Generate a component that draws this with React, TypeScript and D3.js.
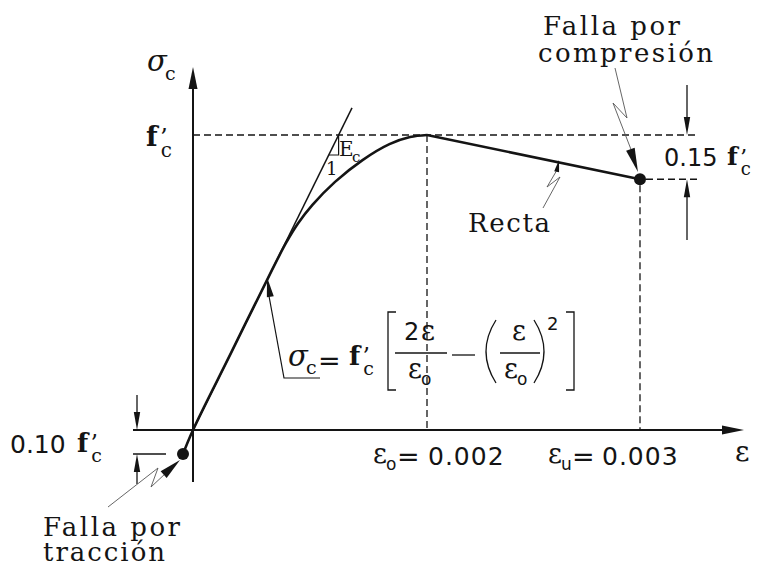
import React from "react";
import * as d3 from "d3";

// Strain breakpoints of the horizontal axis and stress breakpoints (σ / f'c)
const strainStops = [0, 0.002, 0.003];
const stressStops = [-0.1, 0, 1];

// Ascending branch (tension failure point, origin, parabola up to the peak)
const ascEps = [-0.0000855, 0, 0.000321, 0.000662, 0.000795, 0.000897, 0.001021, 0.001214, 0.001449, 0.001679, 0.001855, 0.002];
const ascSig = [-0.1, 0, 0.258, 0.532, 0.634, 0.7, 0.763, 0.841, 0.915, 0.969, 0.993, 1.0];

// Straight descending branch ("Recta") down to the crushing strain
const descEps = [0.002, 0.003];
const descSig = [1.0, 0.85];

// Initial tangent (modulus E_c)
const tangentEps = [0, 0.001359];
const tangentSig = [0, 1.092];

// Failure points
const failEps = [-0.0000855, 0.003];
const failSig = [-0.1, 0.85];

const W = 763;
const H = 567;
const SERIF = "'DejaVu Serif', 'Liberation Serif', serif";
const SANS = "'DejaVu Sans', 'Liberation Sans', sans-serif";
const INK = "#141414";
const LEAD = "#555";

type Pt = [number, number];

function arrowHead(tip: Pt, from: Pt, len: number, half: number): string {
  const dx = tip[0] - from[0];
  const dy = tip[1] - from[1];
  const d = Math.hypot(dx, dy) || 1;
  const ux = dx / d;
  const uy = dy / d;
  const bx = tip[0] - ux * len;
  const by = tip[1] - uy * len;
  const px = -uy * half;
  const py = ux * half;
  return `M${tip[0]},${tip[1]}L${bx + px},${by + py}L${bx - px},${by - py}Z`;
}

function Fc({ x, y, size, sub }: { x: number; y: number; size: number; sub: number }) {
  return (
    <g fill={INK}>
      <text x={x} y={y} fontFamily={SERIF} fontWeight="bold" fontSize={size}>f</text>
      <text x={x + size * 0.52} y={y} fontFamily={SERIF} fontSize={size * 0.9}>’</text>
      <text x={x + size * 0.55} y={y + size * 0.4} fontFamily={SERIF} fontSize={sub}>c</text>
    </g>
  );
}

function EpsSub({ x, y, s }: { x: number; y: number; s: string }) {
  return (
    <g fill={INK}>
      <text x={x} y={y} fontFamily={SERIF} fontSize={27}>ε</text>
      <text x={x + 13} y={y + 7} fontFamily={SANS} fontSize={17}>{s}</text>
    </g>
  );
}

export default function App() {
  const x = d3.scaleLinear().domain(strainStops).range([193, 427, 640]);
  const y = d3.scaleLinear().domain(stressStops).range([454, 430, 135]);

  const asc = ascEps.map((e, i) => [e, ascSig[i]] as Pt);
  const desc = descEps.map((e, i) => [e, descSig[i]] as Pt);
  const tan = tangentEps.map((e, i) => [e, tangentSig[i]] as Pt);

  const curve = d3
    .line<Pt>()
    .x((d) => x(d[0]))
    .y((d) => y(d[1]))
    .curve(d3.curveCatmullRom.alpha(0.5));
  const straight = d3
    .line<Pt>()
    .x((d) => x(d[0]))
    .y((d) => y(d[1]));

  const x0 = x(0);
  const y0 = y(0);
  const yPeak = y(1);
  const xPeak = x(0.002);
  const xU = x(0.003);
  const yU = y(0.85);
  const yT = y(-0.1);

  // slope triangle on the tangent
  const tanSlope = tangentSig[1] / tangentEps[1];
  const xTanAt = (s: number) => x(s / tanSlope);
  const triTop = xTanAt(1);
  const triDrop = 20;
  const triLow = y.invert(yPeak + triDrop);
  const triLeft = xTanAt(triLow);

  const dash = "7,4";

  return (
    <svg width={W} height={H} style={{ position: "absolute", left: 0, top: 0, background: "#fff" }}>
      {/* reference dashed lines */}
      <g stroke={INK} strokeWidth={1.3} strokeDasharray={dash} fill="none">
        <line x1={x0} y1={yPeak} x2={698} y2={yPeak} />
        <line x1={xU + 6} y1={yU} x2={698} y2={yU} />
        <line x1={xPeak} y1={yPeak} x2={xPeak} y2={y0} />
        <line x1={xU} y1={yU + 6} x2={xU} y2={y0} />
      </g>

      {/* axes */}
      <g stroke={INK} strokeWidth={2}>
        <line x1={133} y1={y0} x2={724} y2={y0} />
        <line x1={x0} y1={86} x2={x0} y2={482} />
      </g>
      <path d={arrowHead([744, y0], [700, y0], 22, 4.5)} fill={INK} />
      <path d={arrowHead([x0, 67], [x0, 120], 22, 4.5)} fill={INK} />

      {/* tangent and slope triangle */}
      <path d={straight(tan) || ""} stroke={INK} strokeWidth={1.5} fill="none" />
      <path
        d={`M${triTop},${yPeak}L${triTop},${yPeak + triDrop}L${triLeft},${yPeak + triDrop}`}
        stroke={INK}
        strokeWidth={1.2}
        fill="none"
      />

      {/* stress-strain curve */}
      <path d={curve(asc) || ""} stroke={INK} strokeWidth={2.6} fill="none" strokeLinejoin="round" />
      <path d={straight(desc) || ""} stroke={INK} strokeWidth={2.6} fill="none" />
      {failEps.map((e, i) => (
        <circle key={i} cx={x(e)} cy={y(failSig[i])} r={6} fill={INK} />
      ))}

      {/* 0.10 f'c dimension */}
      <g stroke={INK} strokeWidth={1.3}>
        <line x1={137} y1={395} x2={137} y2={y0 - 16} />
        <line x1={133} y1={yT} x2={166} y2={yT} />
        <line x1={137} y1={yT + 16} x2={137} y2={484} />
      </g>
      <path d={arrowHead([137, y0], [137, 380], 18, 3.2)} fill={INK} />
      <path d={arrowHead([137, yT], [137, 500], 18, 3.2)} fill={INK} />
      <text x={10} y={453} fontFamily={SANS} fontSize={25} fill={INK}>0.10</text>
      <Fc x={77} y={452} size={26} sub={19} />

      {/* 0.15 f'c dimension */}
      <g stroke={INK} strokeWidth={1.3}>
        <line x1={687} y1={85} x2={687} y2={yPeak - 16} />
        <line x1={687} y1={yU + 16} x2={687} y2={240} />
      </g>
      <path d={arrowHead([687, yPeak], [687, 60], 18, 3.2)} fill={INK} />
      <path d={arrowHead([687, yU], [687, 260], 18, 3.2)} fill={INK} />
      <text x={664} y={166} fontFamily={SANS} fontSize={24} fill={INK}>0.15</text>
      <Fc x={727} y={165} size={25} sub={18} />

      {/* axis titles */}
      <text x={147} y={71} fontFamily={SERIF} fontStyle="italic" fontSize={29} fill={INK}>σ</text>
      <text x={165} y={80} fontFamily={SERIF} fontSize={19} fill={INK}>c</text>
      <Fc x={146} y={146} size={27} sub={20} />
      <text x={735} y={461} fontFamily={SERIF} fontSize={28} fill={INK}>ε</text>

      {/* strain labels */}
      <EpsSub x={373} y={463} s="o" />
      <text x={397} y={466} fontFamily={SANS} fontSize={27} fill={INK}>=</text>
      <text x={428} y={465} fontFamily={SANS} fontSize={25} letterSpacing={1} fill={INK}>0.002</text>
      <EpsSub x={548} y={463} s="u" />
      <text x={572} y={466} fontFamily={SANS} fontSize={27} fill={INK}>=</text>
      <text x={602} y={465} fontFamily={SANS} fontSize={25} letterSpacing={1} fill={INK}>0.003</text>

      {/* E_c slope label */}
      <text x={339} y={156} fontFamily={SERIF} fontSize={20} fill={INK}>E</text>
      <text x={352} y={162} fontFamily={SERIF} fontSize={15} fill={INK}>c</text>
      <text x={326} y={175} fontFamily={SERIF} fontSize={18} fill={INK}>1</text>

      {/* formula */}
      <path d="M320,378L284,378L269,296" stroke={INK} strokeWidth={1.2} fill="none" />
      <path d={arrowHead([267, 277], [284, 378], 20, 3.5)} fill={INK} />
      <text x={288} y={366} fontFamily={SERIF} fontStyle="italic" fontSize={29} fill={INK}>σ</text>
      <text x={306} y={374} fontFamily={SERIF} fontSize={19} fill={INK}>c</text>
      <text x={318} y={370} fontFamily={SANS} fontSize={27} fill={INK}>=</text>
      <Fc x={349} y={365} size={26} sub={19} />
      <g stroke={INK} strokeWidth={1.3} fill="none">
        <path d="M396,312L388,312L388,390L396,390" />
        <path d="M566,312L574,312L574,390L566,390" />
        <line x1={395} y1={353} x2={447} y2={353} />
        <line x1={452} y1={355} x2={475} y2={355} />
        <line x1={500} y1={353} x2={540} y2={353} />
        <path d="M496,320Q476,351.5 496,383" />
        <path d="M534,320Q554,351.5 534,383" />
      </g>
      <text x={404} y={340} fontFamily={SANS} fontSize={24} fill={INK}>2</text>
      <text x={421} y={340} fontFamily={SERIF} fontSize={27} fill={INK}>ε</text>
      <EpsSub x={408} y={378} s="o" />
      <text x={512} y={340} fontFamily={SERIF} fontSize={27} fill={INK}>ε</text>
      <EpsSub x={504} y={378} s="o" />
      <text x={547} y={330} fontFamily={SANS} fontSize={18} fill={INK}>2</text>

      {/* Recta */}
      <text x={468} y={232} fontFamily={SERIF} fontSize={26} textLength={82} lengthAdjust="spacing" fill={INK}>Recta</text>
      <path d="M543,208L560,177L547,187L557,170" stroke={LEAD} strokeWidth={0.9} fill="none" />
      <path d={arrowHead([559, 160], [556, 175], 12, 2.5)} fill={INK} />

      {/* compression failure */}
      <text x={543} y={35} fontFamily={SERIF} fontSize={26} textLength={137} lengthAdjust="spacing" fill={INK}>Falla por</text>
      <text x={538} y={62} fontFamily={SERIF} fontSize={26} textLength={175} lengthAdjust="spacing" fill={INK}>compresión</text>
      <path d="M615,68L627,118L613,103L632,152" stroke={LEAD} strokeWidth={0.9} fill="none" />
      <path d={arrowHead([638, 172], [630, 148], 24, 4.5)} fill={INK} />

      {/* tension failure */}
      <text x={43} y={536} fontFamily={SERIF} fontSize={26} textLength={137} lengthAdjust="spacing" fill={INK}>Falla por</text>
      <text x={43} y={561} fontFamily={SERIF} fontSize={26} textLength={122} lengthAdjust="spacing" fill={INK}>tracción</text>
      <path d="M108,507L158,468L151,487L166,473" stroke={LEAD} strokeWidth={0.9} fill="none" />
      <path d={arrowHead([180, 460], [160, 478], 22, 4.5)} fill={INK} />
    </svg>
  );
}
